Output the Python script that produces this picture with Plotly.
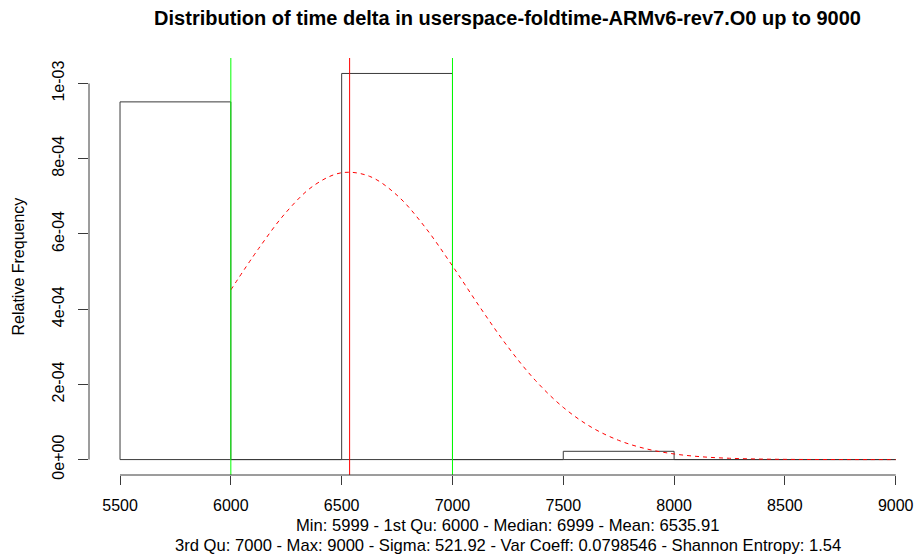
import plotly.graph_objects as go

# Histogram bins (relative frequency density)
bin_left = [5500, 6000, 6500, 7000, 7500, 8000, 8500]
bin_right = [6000, 6500, 7000, 7500, 8000, 8500, 9000]
bin_height = [9.51e-4, 0.0, 1.0266e-3, 0.0, 2.2e-5, 0.0, 0.0]

# Fitted density curve (red dashed)
curve_x = [6000, 6125, 6250, 6375, 6500, 6625, 6750, 6875, 7000, 7125, 7250,
           7375, 7500, 7625, 7750, 7875, 8000, 8125, 8250, 8375, 8500, 8625,
           8750, 8875, 9000]
curve_y = [4.512e-4, 5.607e-4, 6.579e-4, 7.289e-4, 7.626e-4, 7.533e-4,
           7.027e-4, 6.189e-4, 5.148e-4, 4.043e-4, 2.998e-4, 2.099e-4,
           1.388e-4, 8.665e-5, 5.109e-5, 2.844e-5, 1.495e-5, 7.42e-6,
           3.48e-6, 1.54e-6, 6.4e-7, 2.5e-7, 1e-7, 3e-8, 1e-8]

# Reference lines
quartile_lines = [6000, 7000]
mean_line = 6535.91

x_ticks = [5500, 6000, 6500, 7000, 7500, 8000, 8500, 9000]
y_ticks = [0, 2e-4, 4e-4, 6e-4, 8e-4, 1e-3]
y_tick_text = ["0e+00", "2e-04", "4e-04", "6e-04", "8e-04", "1e-03"]

title = "Distribution of time delta in userspace-foldtime-ARMv6-rev7.O0 up to 9000"
sub1 = "Min: 5999 - 1st Qu: 6000 - Median: 6999 - Mean: 6535.91"
sub2 = "3rd Qu: 7000 - Max: 9000 - Sigma: 521.92 - Var Coeff: 0.0798546 - Shannon Entropy: 1.54"

FONT = "Liberation Sans, Arial, Helvetica, sans-serif"
LINE = "#3a3a3a"
FS = 16

# Build histogram outline path
hx, hy = [], []
for l, r, h in zip(bin_left, bin_right, bin_height):
    hx += [l, l, r, r, l, None]
    hy += [0, h, h, 0, 0, None]

fig = go.Figure()
fig.add_trace(go.Scatter(x=hx, y=hy, mode="lines",
                         line=dict(color=LINE, width=1), hoverinfo="skip"))
fig.add_trace(go.Scatter(x=curve_x, y=curve_y, mode="lines",
                         line=dict(color="#ff0000", width=1, dash="4px,4px", shape="spline"),
                         hoverinfo="skip"))

shapes = []
for q in quartile_lines:
    shapes.append(dict(type="line", xref="x", yref="paper", x0=q, x1=q, y0=0, y1=1,
                       line=dict(color="#00ff00", width=1)))
shapes.append(dict(type="line", xref="x", yref="paper", x0=mean_line, x1=mean_line,
                   y0=0, y1=1, line=dict(color="#ff0000", width=1)))
# axis lines (R style: only between first and last tick)
shapes.append(dict(type="line", xref="x", yref="paper", x0=x_ticks[0], x1=x_ticks[-1],
                   y0=0, y1=0, line=dict(color=LINE, width=1)))
shapes.append(dict(type="line", xref="paper", yref="y", x0=0, x1=0,
                   y0=y_ticks[0], y1=y_ticks[-1], line=dict(color=LINE, width=1)))

W, H = 917, 558
ml, mr, mt, mb = 89, 0, 58, 83
PW, PH = W - ml - mr, H - mt - mb

fig.update_layout(
    width=W, height=H,
    margin=dict(l=ml, r=mr, t=mt, b=mb),
    paper_bgcolor="white", plot_bgcolor="white",
    showlegend=False,
    shapes=shapes,
    font=dict(family=FONT, size=FS, color="#000000"),
    title=dict(text="<b>" + title + "</b>", x=507.5 / W, xanchor="center",
               y=1 - 18 / H, yanchor="middle", yref="container",
               font=dict(family=FONT, size=20, color="#000000")),
    xaxis=dict(range=[5360, 9096], tickvals=x_ticks, ticktext=[str(v) for v in x_ticks],
               ticks="outside", ticklen=9, tickcolor=LINE, tickwidth=1,
               ticklabelstandoff=7,
               showline=False, showgrid=False, zeroline=False,
               tickfont=dict(family=FONT, size=FS, color="#000")),
    yaxis=dict(range=[-4.1e-5, 1.0677e-3], tickvals=y_ticks, ticktext=y_tick_text,
               ticks="outside", ticklen=10, tickcolor=LINE, tickwidth=1, tickangle=-90,
               ticklabelstandoff=8,
               showline=False, showgrid=False, zeroline=False,
               tickfont=dict(family=FONT, size=FS, color="#000")),
    annotations=[
        dict(text="Relative Frequency", xref="paper", yref="paper",
             x=(18 - ml) / PW, y=0.5, xanchor="center", yanchor="middle",
             textangle=-90, showarrow=False, font=dict(family=FONT, size=FS, color="#000")),
        dict(text=sub1, xref="paper", yref="paper", x=(507.5 - ml) / PW,
             y=(H - mb - 525) / PH, xanchor="center", yanchor="middle",
             showarrow=False, font=dict(family=FONT, size=16.6, color="#000")),
        dict(text=sub2, xref="paper", yref="paper", x=(507.5 - ml) / PW,
             y=(H - mb - 545) / PH, xanchor="center", yanchor="middle",
             showarrow=False, font=dict(family=FONT, size=16.6, color="#000")),
    ],
)

fig.write_html("out.html", config={"displayModeBar": False},
               post_script="document.body.style.margin='0';")
